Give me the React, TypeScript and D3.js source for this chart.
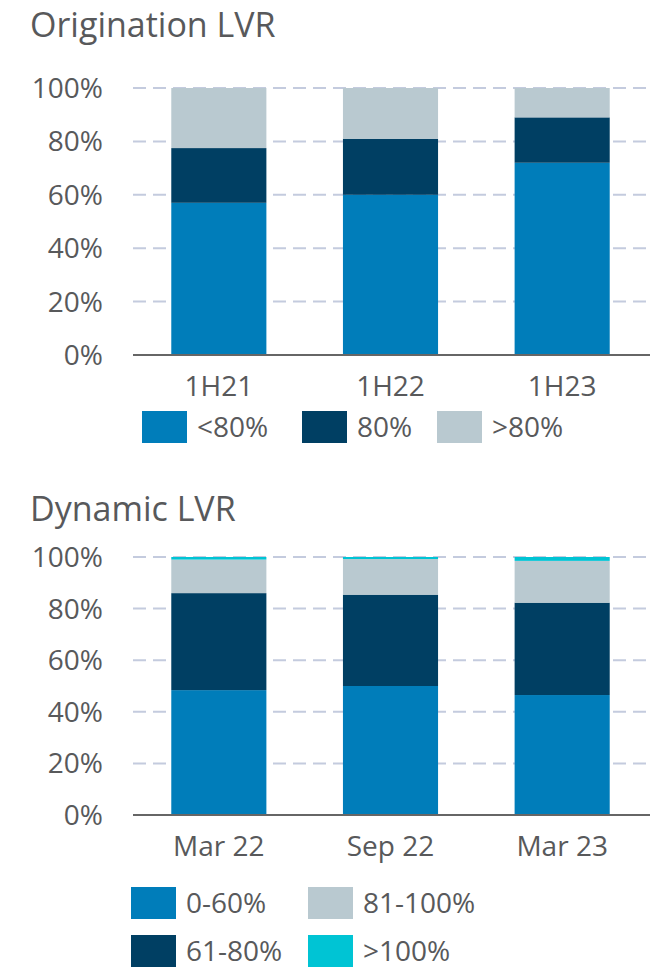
import React from "react";
import * as d3 from "d3";

const W = 656;
const H = 970;
const FONT = "'Open Sans', sans-serif";
const TEXT = "#58595b";
const GRID = "#c4cbde";

// top chart
const origCats = ["1H21", "1H22", "1H23"];
const origKeys = ["<80%", "80%", ">80%"];
const origColors = ["#007dba", "#003f63", "#b9c9d0"];
const origLow = [57, 60, 72];
const origMid = [20.5, 21, 17];
const origHigh = [22.5, 19, 11];

// bottom chart
const dynCats = ["Mar 22", "Sep 22", "Mar 23"];
const dynKeys = ["0-60%", "61-80%", "81-100%", ">100%"];
const dynColors = ["#007dba", "#003f63", "#b9c9d0", "#00c4d4"];
const dyn0to60 = [48.4, 50, 46.5];
const dyn61to80 = [37.6, 35.4, 35.8];
const dyn81to100 = [13, 13.8, 16.2];
const dynOver100 = [1, 0.8, 1.5];

const yTicks = [0, 20, 40, 60, 80, 100];

type Row = { cat: string; [k: string]: number | string };

const StackedChart = ({ cats, keys, colors, rows, top, bottom }: {
  cats: string[]; keys: string[]; colors: string[]; rows: Row[]; top: number; bottom: number;
}) => {
  const x = d3.scaleBand().domain(cats).range([133, 648]).paddingInner(0.446).paddingOuter(0.223);
  const y = d3.scaleLinear().domain([0, 100]).range([bottom, top]);
  const series = d3.stack<Row>().keys(keys)(rows);
  return (
    <g>
      {yTicks.map((t) => (
        <g key={t}>
          {t > 0 && (
            <line x1={133} x2={650} y1={y(t)} y2={y(t)} stroke={GRID} strokeWidth={2} strokeDasharray="13 7" />
          )}
          <text x={103} y={y(t)} dy="0.36em" textAnchor="end" fontSize={28} fill={TEXT}>{t}%</text>
        </g>
      ))}
      {series.map((s, i) => (
        <g key={s.key} fill={colors[i]}>
          {s.map((d) => (
            <rect key={String(d.data.cat)} x={x(String(d.data.cat))} width={x.bandwidth()}
              y={y(d[1])} height={y(d[0]) - y(d[1])} />
          ))}
        </g>
      ))}
      <line x1={133} x2={650} y1={bottom} y2={bottom} stroke="#666" strokeWidth={2} />
      {cats.map((c) => (
        <text key={c} x={(x(c) ?? 0) + x.bandwidth() / 2} y={bottom + 41} textAnchor="middle" fontSize={28} fill={TEXT}>{c}</text>
      ))}
    </g>
  );
};

const LegendItem = ({ x, y, color, label }: { x: number; y: number; color: string; label: string }) => (
  <g transform={`translate(${x},${y})`}>
    <rect width={45} height={32} fill={color} />
    <text x={55} y={16} dy="0.36em" fontSize={28} fill={TEXT}>{label}</text>
  </g>
);

export default function App() {
  const origRows: Row[] = origCats.map((c, i) => ({
    cat: c, [origKeys[0]]: origLow[i], [origKeys[1]]: origMid[i], [origKeys[2]]: origHigh[i],
  }));
  const dynRows: Row[] = dynCats.map((c, i) => ({
    cat: c, [dynKeys[0]]: dyn0to60[i], [dynKeys[1]]: dyn61to80[i], [dynKeys[2]]: dyn81to100[i], [dynKeys[3]]: dynOver100[i],
  }));
  return (
    <svg width={W} height={H} style={{ position: "absolute", left: 0, top: 0 }} fontFamily={FONT}>
      <rect width={W} height={H} fill="#fff" />
      <text x={30} y={37} fontSize={34} fill={TEXT}>Origination LVR</text>
      <StackedChart cats={origCats} keys={origKeys} colors={origColors} rows={origRows} top={88} bottom={355} />
      <LegendItem x={142} y={411} color={origColors[0]} label={origKeys[0]} />
      <LegendItem x={302} y={411} color={origColors[1]} label={origKeys[1]} />
      <LegendItem x={437} y={411} color={origColors[2]} label={origKeys[2]} />

      <text x={30} y={521} fontSize={34} fill={TEXT}>Dynamic LVR</text>
      <StackedChart cats={dynCats} keys={dynKeys} colors={dynColors} rows={dynRows} top={557} bottom={815} />
      <LegendItem x={131} y={887} color={dynColors[0]} label={dynKeys[0]} />
      <LegendItem x={308} y={887} color={dynColors[2]} label={dynKeys[2]} />
      <LegendItem x={131} y={935} color={dynColors[1]} label={dynKeys[1]} />
      <LegendItem x={308} y={935} color={dynColors[3]} label={dynKeys[3]} />
    </svg>
  );
}
